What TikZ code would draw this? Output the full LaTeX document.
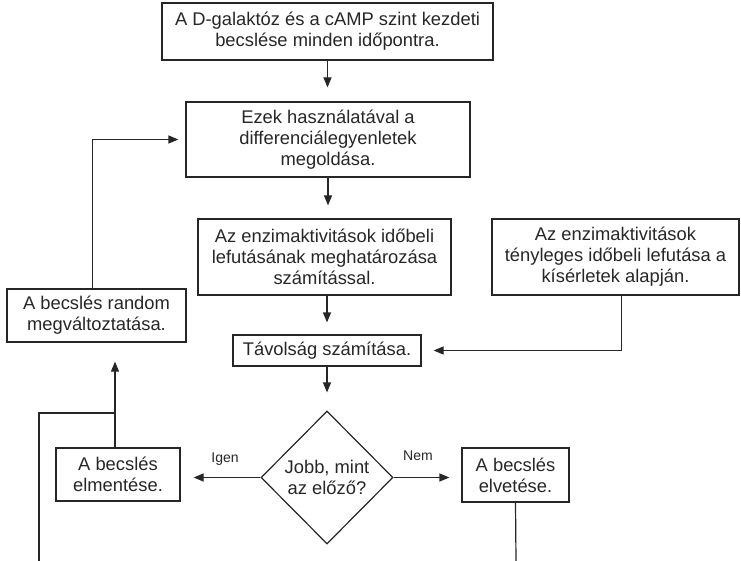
\documentclass[tikz,border=0pt]{standalone}
\usepackage{fontspec}
\setmainfont{Liberation Sans}
\usetikzlibrary{arrows.meta,shapes.geometric}

\begin{document}
\begin{tikzpicture}[x=1pt,y=-1pt,line width=1.2pt,color=black!85,
  font=\fontsize{18.35}{21}\selectfont,
  box/.style={draw,align=center,inner sep=0pt},
  lbl/.style={font=\fontsize{14}{16}\selectfont,inner sep=0pt},
  arr/.style={-{Triangle[length=10pt,width=8pt]}}]
\useasboundingbox (0,0) rectangle (741,561);
% boxes
\node[box,minimum width=331pt,minimum height=57pt] (start) at (327.5,31.5)
  {A D-galaktóz és a cAMP szint kezdeti\\becslése minden időpontra.};
\node[box,minimum width=284pt,minimum height=75pt] (solve) at (328,139.5)
  {Ezek használatával a\\differenciálegyenletek\\megoldása.};
\node[box,minimum width=253pt,minimum height=76pt] (calc) at (324.5,257)
  {Az enzimaktivitások időbeli\\lefutásának meghatározása\\számítással.};
\node[box,minimum width=247pt,minimum height=76pt] (meas) at (615.5,257)
  {Az enzimaktivitások\\tényleges időbeli lefutása a\\kísérletek alapján.};
\node[box,minimum width=179pt,minimum height=53pt] (rand) at (96.5,315.5)
  {A becslés random\\megváltoztatása.};
\node[box,minimum width=188pt,minimum height=31pt] (dist) at (327,350.5)
  {Távolság számítása.};
\node[box,shape=diamond,minimum width=132pt,minimum height=133pt] (check) at (327,477.5)
  {Jobb, mint\\az előző?};
\node[box,minimum width=124pt,minimum height=53pt] (save) at (118,474.5)
  {A becslés\\elmentése.};
\node[box,minimum width=107pt,minimum height=54pt] (reject) at (515.5,475)
  {A becslés\\elvetése.};
\node[lbl] (yes) at (225,459) {Igen};
\node[lbl] (no) at (418,456) {Nem};
% main column
\draw[arr,shorten >=14pt] (start.south) -- (start.south |- solve.north);
\draw[arr,shorten >=13pt] (solve.south) -- (solve.south |- calc.north);
\draw[arr,shorten >=12pt] (dist |- calc.south) -- (dist.north);
\draw[arr,shorten >=18pt] (dist.south) -- (check.north);
% decision
\draw[arr,shorten >=13pt] (check.west) -- (check.west -| save.east);
\draw[arr,shorten >=12pt] (check.east) -- (check.east -| reject.west);
% measured data
\draw[arr,shorten >=12pt] ([xshift=6pt]meas.south) |- (dist.east);
% loop back
\draw[arr,shorten >=19pt] ([xshift=-3pt]save.north) -- ([xshift=-3pt]save.north |- rand.south);
\coordinate (join) at (115,413);
\coordinate (lowleft) at (39,561);
\draw (lowleft) |- (join);
\draw[arr,shorten >=7pt] ([xshift=-4pt]rand.north) |- (solve.west);
\coordinate (lowright) at (516,561);
\draw (reject.south) -- (lowright);
\end{tikzpicture}
\end{document}
